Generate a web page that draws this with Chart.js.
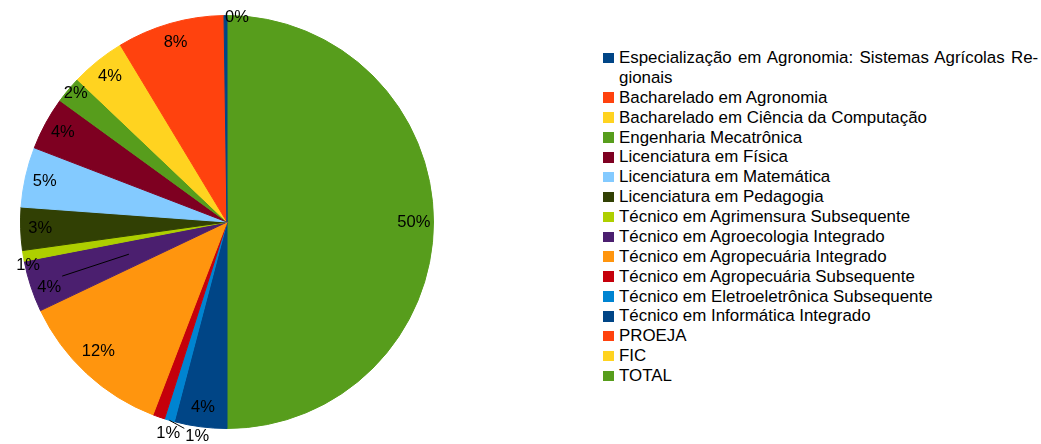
<!DOCTYPE html>
<html>
<head>
<meta charset="utf-8">
<script src="https://cdn.jsdelivr.net/npm/chart.js@4/dist/chart.umd.min.js"></script>
<style>
  html, body { margin: 0; padding: 0; background: #fff; }
  body { width: 1041px; height: 444px; position: relative; overflow: hidden; font-family: "Liberation Sans", Arial, sans-serif; }
  #wrap { position: absolute; left: 0; top: 0; width: 454px; height: 444px; }
  #legend { position: absolute; left: 603px; top: 48px; width: 438px; font-size: 16.9px; line-height: 19.875px; color: #000; }
  .item { position: relative; padding-left: 16px; white-space: nowrap; }
  .sw { position: absolute; left: 0; top: 4.7px; width: 10.5px; height: 10.5px; }
  .just { word-spacing: 1.6px; }
</style>
</head>
<body>
<div id="wrap"><canvas id="c"></canvas></div>
<div id="legend"></div>
<script>
// ---- data (legend order) ----
const categories = [
  "Especialização em Agronomia: Sistemas Agrícolas Re\u00ADgionais",
  "Bacharelado em Agronomia",
  "Bacharelado em Ciência da Computação",
  "Engenharia Mecatrônica",
  "Licenciatura em Física",
  "Licenciatura em Matemática",
  "Licenciatura em Pedagogia",
  "Técnico em Agrimensura Subsequente",
  "Técnico em Agroecologia Integrado",
  "Técnico em Agropecuária Integrado",
  "Técnico em Agropecuária Subsequente",
  "Técnico em Eletroeletrônica Subsequente",
  "Técnico em Informática Integrado",
  "PROEJA",
  "FIC",
  "TOTAL"
];
const values = [0.23, 8.4, 4.26, 2.1, 4.15, 4.69, 3.36, 0.83, 4.02, 12.1, 0.94, 0.79, 4.1, 0, 0, 49.97];
const colors = ["#004586", "#ff420e", "#ffd320", "#579d1c", "#7e0021", "#83caff", "#314004", "#aecf00",
                "#4b1f6f", "#ff950e", "#c5000b", "#0084d1", "#004586", "#ff420e", "#ffd320", "#579d1c"];

// label placement tweaks (by legend index): angle shift in degrees, radius factor, leader lines
const labelTweaks = {
  0:  { da: 3.2,  rf: 0.99 },
  3:  { da: 0.5,  rf: 0.96 },
  7:  { da: -2.85, rf: 0.986 },
  8:  { da: -2.1, rf: 0.918, radial: [0.5, 0.84] },
  9:  { da: 2, rf: 0.884 },
  10: { da: -3.75, rf: 1.063 },
  11: { da: -8.3, rf: 1.048, leader: [-13, -8] }
};

const n = categories.length;
const chartLabels = categories.slice().reverse();
const chartValues = values.slice().reverse();
const chartColors = colors.slice().reverse();

const pctLabels = {
  id: 'pctLabels',
  afterDatasetsDraw(chart) {
    const ctx = chart.ctx;
    const meta = chart.getDatasetMeta(0);
    const data = chart.data.datasets[0].data;
    const total = data.reduce((a, b) => a + b, 0);
    ctx.save();
    ctx.font = '16.5px "Liberation Sans", Arial, sans-serif';
    ctx.fillStyle = '#000';
    ctx.strokeStyle = '#000';
    ctx.lineWidth = 1;
    ctx.textAlign = 'center';
    ctx.textBaseline = 'middle';
    meta.data.forEach((arc, i) => {
      const v = data[i];
      if (!(v > 0)) return;
      const li = n - 1 - i;
      const t = labelTweaks[li] || {};
      const p = arc.getProps(['x', 'y', 'startAngle', 'endAngle', 'outerRadius'], true);
      const mid = (p.startAngle + p.endAngle) / 2;
      const a = mid + (t.da || 0) * Math.PI / 180;
      const r = p.outerRadius * (t.rf || 0.905);
      const lx = p.x + r * Math.cos(a);
      const ly = p.y + r * Math.sin(a);
      if (t.radial) {
        ctx.beginPath();
        ctx.moveTo(p.x + p.outerRadius * t.radial[0] * Math.cos(mid), p.y + p.outerRadius * t.radial[0] * Math.sin(mid));
        ctx.lineTo(p.x + p.outerRadius * t.radial[1] * Math.cos(mid), p.y + p.outerRadius * t.radial[1] * Math.sin(mid));
        ctx.stroke();
      }
      if (t.leader) {
        ctx.beginPath();
        ctx.moveTo(p.x + p.outerRadius * Math.cos(mid), p.y + p.outerRadius * Math.sin(mid));
        ctx.lineTo(lx + t.leader[0], ly + t.leader[1]);
        ctx.stroke();
      }
      ctx.fillText(Math.round(v / total * 100) + '%', lx, ly);
    });
    ctx.restore();
  }
};

new Chart(document.getElementById('c'), {
  type: 'pie',
  data: {
    labels: chartLabels,
    datasets: [{
      data: chartValues,
      backgroundColor: chartColors,
      borderColor: chartColors,
      borderWidth: (c) => (c.raw > 0 ? 1 : 0)
    }]
  },
  options: {
    responsive: true,
    maintainAspectRatio: false,
    animation: false,
    layout: { padding: { top: 15, bottom: 15, left: 20, right: 20 } },
    plugins: { legend: { display: false }, tooltip: { enabled: false } }
  },
  plugins: [pctLabels]
});

// HTML legend
const lg = document.getElementById('legend');
categories.forEach((name, i) => {
  const d = document.createElement('div');
  d.className = 'item';
  const sw = document.createElement('span');
  sw.className = 'sw';
  sw.style.background = colors[i];
  d.appendChild(sw);
  const parts = name.split('\u00AD');
  parts.forEach((part, k) => {
    if (k < parts.length - 1) {
      const s = document.createElement('span');
      s.className = 'just';
      s.textContent = part + '-';
      d.appendChild(s);
      d.appendChild(document.createElement('br'));
    } else {
      d.appendChild(document.createTextNode(part));
    }
  });
  lg.appendChild(d);
});
</script>
</body>
</html>
